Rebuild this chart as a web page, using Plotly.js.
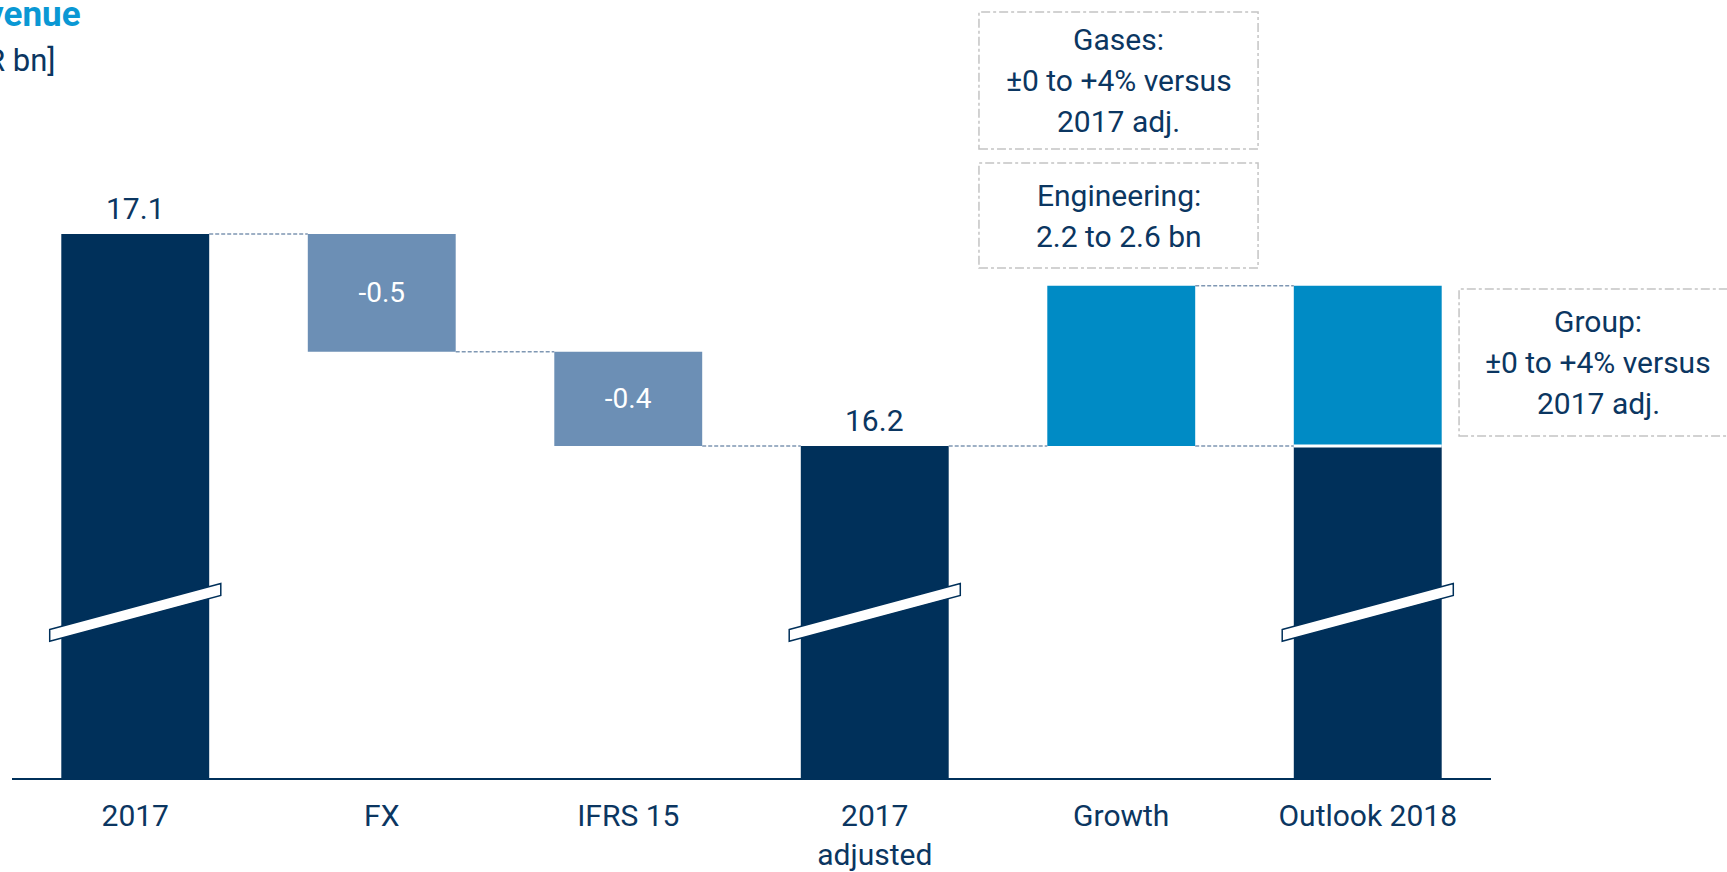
<!DOCTYPE html>
<html>
<head>
<meta charset="utf-8">
<script src="https://cdn.plot.ly/plotly-3.0.1.min.js"></script>
<style>
  html, body { margin: 0; padding: 0; background: #ffffff; overflow: hidden; }
  #chart { width: 1727px; height: 872px; }
</style>
</head>
<body>
<div id="chart"></div>
<script>
// ---- data ----
const categories   = ['2017', 'FX', 'IFRS 15', '2017<br>adjusted', 'Growth', 'Outlook 2018'];
const totalCats    = ['2017', '2017<br>adjusted', 'Outlook 2018'];
const totalValues  = [17.1, 16.2, 16.2];
const totalLabels  = ['17.1', '16.2', ''];
const changeCats   = ['FX', 'IFRS 15'];
const changeValues = [-0.5, -0.4];
const changeLabels = ['-0.5', '-0.4'];
const growthCats   = ['Growth', 'Outlook 2018'];
const growthValues = [0.68, 0.68];
const titleText    = 'Revenue';
const unitText     = '[EUR bn]';
const boxTexts     = [['Gases:', '±0 to +4% versus', '2017 adj.'],
                      ['Engineering:', '2.2 to 2.6 bn'],
                      ['Group:', '±0 to +4% versus', '2017 adj.']];

// ---- styling ----
const NAVY = '#00305A';
const TEXT = '#0B3661';
const GREYBLUE = '#6C8FB5';
const CYAN = '#008BC5';
const TITLECYAN = '#0A98D4';
const CONNECT = '#7F97B3';
const BOXLINE = '#C4C4C4';
const FONT = 'Roboto, "Open Sans", "DejaVu Sans", sans-serif';
const BARW = 0.6;

// ---- derived waterfall positions ----
const startVal = totalValues[0];
const changeBases = [];
let running = startVal;
changeValues.forEach(v => { changeBases.push(running); running += v; });
const adjusted = totalValues[1];
const growthBases = growthCats.map(() => adjusted);
const growthTop = adjusted + growthValues[0];
const idx = c => categories.indexOf(c);

const traces = [
  {
    type: 'bar', x: totalCats, y: totalValues, base: totalCats.map(() => 0),
    width: BARW, marker: { color: NAVY }, hoverinfo: 'skip', showlegend: false
  },
  {
    type: 'bar', x: changeCats, y: changeValues, base: changeBases,
    width: BARW, marker: { color: GREYBLUE }, text: changeLabels,
    textposition: 'inside', insidetextanchor: 'middle',
    textfont: { color: '#ffffff', size: 28, family: FONT },
    hoverinfo: 'skip', showlegend: false
  },
  {
    type: 'bar', x: growthCats, y: growthValues, base: growthBases,
    width: BARW, marker: { color: CYAN }, hoverinfo: 'skip', showlegend: false
  }
];

const shapes = [];
const annotations = [];

// connectors between bars
const connectors = [
  [0, 1, startVal],
  [1, 2, changeBases[1]],
  [2, 3, running],
  [3, 4, adjusted],
  [4, 5, adjusted],
  [4, 5, growthTop]
];
connectors.forEach(([a, b, lvl]) => {
  shapes.push({
    type: 'line', xref: 'x', yref: 'y', x0: a + BARW / 2, x1: b - BARW / 2,
    y0: lvl, y1: lvl, line: { color: CONNECT, width: 1.5, dash: '4px,2px' }, layer: 'above'
  });
});

// white separation in the outlook bar
shapes.push({
  type: 'line', xref: 'x', yref: 'y', x0: idx('Outlook 2018') - BARW / 2, x1: idx('Outlook 2018') + BARW / 2,
  y0: adjusted, y1: adjusted, line: { color: '#ffffff', width: 3 }, layer: 'above'
});

// axis-break marks on the total bars
const breakL = 15.421, breakR = 15.616, breakH = 0.05, breakExt = 0.347;
totalCats.forEach(c => {
  const i = idx(c);
  const x0 = i - breakExt, x1 = i + breakExt;
  shapes.push({
    type: 'path', xref: 'x', yref: 'y', layer: 'above',
    path: `M ${x0},${breakL} L ${x1},${breakR} L ${x1},${breakR - breakH} L ${x0},${breakL - breakH} Z`,
    fillcolor: '#ffffff', line: { color: NAVY, width: 1.5 }
  });
});

// value labels above totals
totalCats.forEach((c, k) => {
  if (!totalLabels[k]) return;
  annotations.push({
    xref: 'x', yref: 'y', x: idx(c), y: totalValues[k], text: totalLabels[k],
    showarrow: false, yanchor: 'bottom', yshift: 6,
    font: { family: FONT, size: 30, color: TEXT }
  });
});

// dashed info boxes (paper coordinates, may extend past the plot area)
const boxes = [
  { x0: 0.6538, x1: 0.8425, y0: 0.8085, y1: 0.9846, cx: 0.7482 },
  { x0: 0.6538, x1: 0.8425, y0: 0.6555, y1: 0.7905, cx: 0.7482 },
  { x0: 0.9784, x1: 1.1717, y0: 0.4396, y1: 0.6285, cx: 1.0724 }
];
const LINEGAP = 41;
boxes.forEach((b, k) => {
  shapes.push({
    type: 'rect', xref: 'paper', yref: 'paper', x0: b.x0, x1: b.x1, y0: b.y0, y1: b.y1,
    line: { color: BOXLINE, width: 1.5, dash: 'dashdot' }, fillcolor: 'rgba(0,0,0,0)', layer: 'above'
  });
  const lines = boxTexts[k];
  const n = lines.length;
  lines.forEach((t, j) => {
    annotations.push({
      xref: 'paper', yref: 'paper', x: b.cx, y: (b.y0 + b.y1) / 2, text: t,
      showarrow: false, xanchor: 'center', yanchor: 'middle', align: 'center',
      yshift: -(j - (n - 1) / 2) * LINEGAP,
      font: { family: FONT, size: 30, color: TEXT }
    });
  });
});

// title lines (partly cut off at the left edge, as in the reference)
annotations.push({
  xref: 'paper', yref: 'paper', x: (83 - 12) / 1479, y: 1.0, xanchor: 'right', yanchor: 'top',
  text: '<b>' + titleText + '</b>', showarrow: false, yshift: 8,
  font: { family: FONT, size: 35, color: TITLECYAN }
});
annotations.push({
  xref: 'paper', yref: 'paper', x: (57 - 12) / 1479, y: 1.0, xanchor: 'right', yanchor: 'top',
  text: unitText, showarrow: false, yshift: -40,
  font: { family: FONT, size: 31, color: TEXT }
});

const layout = {
  width: 1727, height: 872,
  margin: { l: 12, r: 236, t: 0, b: 94 },
  paper_bgcolor: '#ffffff', plot_bgcolor: '#ffffff',
  barmode: 'overlay',
  showlegend: false,
  font: { family: FONT, color: TEXT },
  xaxis: {
    type: 'category', categoryorder: 'array', categoryarray: categories,
    range: [-0.5, 5.5], showgrid: false, zeroline: false,
    showline: true, linecolor: NAVY, linewidth: 2,
    ticks: '', ticklabelstandoff: 10,
    tickfont: { family: FONT, size: 30, color: TEXT }, fixedrange: true
  },
  yaxis: {
    range: [14.7906, 18.0934], visible: false, showgrid: false, zeroline: false, fixedrange: true
  },
  shapes: shapes,
  annotations: annotations
};

Plotly.newPlot('chart', traces, layout, { displayModeBar: false, staticPlot: true });
</script>
</body>
</html>
